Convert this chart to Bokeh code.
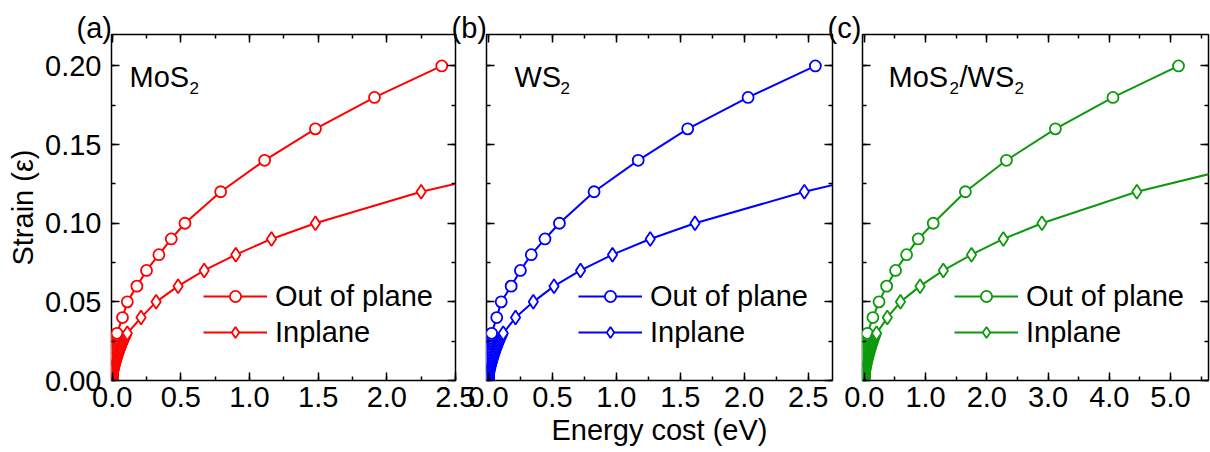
from bokeh.plotting import figure
from bokeh.layouts import row
from bokeh.models import (Label, LinearAxis, SingleIntervalTicker, NumeralTickFormatter,
                          CustomJSTickFormatter, Range1d, Legend, LegendItem, Title)
from bokeh.embed import file_html
from bokeh.resources import INLINE

FONT = "Liberation Sans"

# ---------------- data (strain vs energy cost, eV) ----------------
low_strain = [0.000, 0.001, 0.002, 0.003, 0.004, 0.005, 0.006, 0.007, 0.008, 0.009,
              0.010, 0.011, 0.012, 0.013, 0.014, 0.015, 0.016, 0.017, 0.018, 0.019,
              0.020, 0.021, 0.022, 0.023, 0.024, 0.025, 0.026, 0.027, 0.028, 0.029, 0.030]
oop_high_strain = [0.04, 0.05, 0.06, 0.07, 0.08, 0.09, 0.10, 0.12, 0.14, 0.16, 0.18, 0.20]
ip_high_strain = [0.04, 0.05, 0.06, 0.07, 0.08, 0.09, 0.10, 0.12, 0.14]

mos2_oop_low = [0, .0006, .0012, .0019, .0026, .0034, .0042, .0050, .0059, .0068, .0078,
                .0088, .0098, .0109, .0120, .0131, .0143, .0155, .0168, .0181, .0194,
                .0208, .0222, .0237, .0252, .0267, .0283, .0299, .0316, .0333, .035]
mos2_oop_high = [0.075, 0.11, 0.18, 0.25, 0.34, 0.43, 0.53, 0.79, 1.11, 1.48, 1.91, 2.40]
mos2_ip_low = [0, .0019, .0039, .0061, .0083, .0107, .0132, .0158, .0186, .0215, .0244,
               .0276, .0308, .0342, .0376, .0413, .0450, .0488, .0528, .0569, .0611,
               .0655, .0699, .0745, .0792, .0840, .0890, .0941, .0992, .1046, .11]
mos2_ip_high = [0.21, 0.32, 0.48, 0.67, 0.90, 1.16, 1.48, 2.25, 3.25]

ws2_oop_low = [0, .0004, .0009, .0014, .0019, .0024, .0030, .0036, .0042, .0049, .0056,
               .0063, .0070, .0078, .0086, .0094, .0102, .0111, .0120, .0129, .0139,
               .0149, .0159, .0169, .0180, .0191, .0202, .0214, .0226, .0238, .025]
ws2_oop_high = [0.065, 0.10, 0.178, 0.25, 0.335, 0.442, 0.555, 0.826, 1.171, 1.558, 2.03, 2.556]
ws2_ip_low = [0, .0020, .0041, .0064, .0088, .0113, .0139, .0167, .0196, .0226, .0258,
              .0291, .0325, .0360, .0397, .0435, .0474, .0515, .0557, .0600, .0645,
              .0690, .0737, .0786, .0835, .0886, .0938, .0992, .1047, .1103, .116]
ws2_ip_high = [0.212, 0.351, 0.513, 0.72, 0.97, 1.265, 1.615, 2.47, 3.52]

het_oop_low = [0, .0009, .0018, .0028, .0038, .0049, .0060, .0072, .0084, .0098, .0111,
               .0125, .0140, .0155, .0171, .0188, .0204, .0222, .0240, .0259, .0278,
               .0298, .0318, .0339, .0360, .0382, .0404, .0428, .0451, .0475, .05]
het_oop_high = [0.14, 0.24, 0.364, 0.51, 0.69, 0.88, 1.125, 1.65, 2.32, 3.12, 4.06, 5.13]
het_ip_low = [0, .0034, .0071, .0110, .0151, .0194, .0240, .0288, .0338, .0390, .0444,
              .0501, .0560, .0621, .0684, .0750, .0818, .0888, .0960, .1034, .1111,
              .1190, .1271, .1354, .1440, .1528, .1618, .1710, .1804, .1901, .20]
het_ip_high = [0.375, 0.59, 0.91, 1.29, 1.75, 2.27, 2.90, 4.45, 6.55]

series_labels = ["Out of plane", "Inplane"]


# ---------------- panels ----------------
def make_panel(tag, title_parts, color, oop_e, ip_e, xr, xint, width, bl, br, ml,
               show_y, xlabel):
    p = figure(width=width, height=452, x_range=Range1d(*xr), y_range=Range1d(0, 0.22),
               output_backend="svg", toolbar_location=None,
               min_border_left=bl, min_border_right=br, min_border_top=34,
               min_border_bottom=72, margin=(0, 0, 0, ml))
    p.title = Title(text=tag, align="left", offset=-35, standoff=-18,
                    text_font=FONT, text_font_size="29px", text_font_style="normal",
                    text_color="black")
    p.xgrid.visible = False
    p.ygrid.visible = False
    p.outline_line_color = "black"
    p.outline_line_width = 1.5
    p.background_fill_color = "white"
    p.border_fill_color = None

    xt = SingleIntervalTicker(interval=xint, num_minor_ticks=2)
    yt = SingleIntervalTicker(interval=0.05, num_minor_ticks=2)

    def style(ax):
        ax.axis_line_color = None
        ax.major_tick_in = 8
        ax.major_tick_out = 0
        ax.minor_tick_in = 4
        ax.minor_tick_out = 0
        ax.major_tick_line_color = "black"
        ax.minor_tick_line_color = "black"
        ax.major_tick_line_width = 1.5
        ax.minor_tick_line_width = 1.5
        ax.major_label_text_font = FONT
        ax.major_label_text_color = "black"
        ax.axis_label_text_font = FONT
        ax.axis_label_text_font_style = "normal"
        ax.axis_label_text_color = "black"

    xa = p.xaxis[0]
    xa.ticker = xt
    style(xa)
    xa.formatter = NumeralTickFormatter(format="0.0")
    xa.major_label_text_font_size = "29px"
    xa.major_label_standoff = 6
    if xlabel:
        xa.axis_label = xlabel
        xa.axis_label_text_font_size = "29px"
        xa.axis_label_standoff = 4

    ya = p.yaxis[0]
    ya.ticker = yt
    style(ya)
    if show_y:
        ya.formatter = NumeralTickFormatter(format="0.00")
        ya.major_label_text_font_size = "29px"
        ya.major_label_standoff = 10
        ya.axis_label = "Strain (\u03b5)"
        ya.axis_label_text_font_size = "29px"
        ya.axis_label_standoff = 3
    else:
        ya.formatter = CustomJSTickFormatter(code="return ''")
        ya.major_label_text_font_size = "1px"

    for loc, tk in (("above", xt), ("right", yt)):
        ax = LinearAxis(ticker=tk, formatter=CustomJSTickFormatter(code="return ''"))
        style(ax)
        ax.major_label_text_font_size = "1px"
        ax.major_label_standoff = 0
        p.add_layout(ax, loc)

    oop_s = low_strain + oop_high_strain
    ip_s = low_strain + ip_high_strain
    l1 = p.line(oop_e, oop_s, line_color=color, line_width=2)
    s1 = p.scatter(oop_e, oop_s, marker="circle", size=11, line_color=color,
                   line_width=1.8, fill_color="white")
    l2 = p.line(ip_e, ip_s, line_color=color, line_width=2)
    s2 = p.scatter(ip_e, ip_s, marker="diamond", size=14,
                   line_color=color, line_width=1.8, fill_color="white")

    legend = Legend(items=[LegendItem(label=series_labels[0], renderers=[l1, s1]),
                           LegendItem(label=series_labels[1], renderers=[l2, s2])],
                    location=(92, 30), glyph_width=64, glyph_height=28, label_height=36,
                    spacing=0, padding=0, margin=0, label_standoff=8,
                    label_text_font=FONT, label_text_font_size="29px",
                    label_text_color="black",
                    border_line_color=None, background_fill_alpha=0)
    p.add_layout(legend)

    for txt, x, y, fs in title_parts:
        p.add_layout(Label(x=x, y=y, x_units="screen", y_units="screen", text=txt,
                           text_font=FONT, text_font_size=fs, text_align="left",
                           text_baseline="alphabetic", text_color="black"))
    return p


pa = make_panel("(a)",
                [("MoS", 18, 304, "29px"), ("2", 78, 293, "17px")],
                "#FF0000", mos2_oop_low + mos2_oop_high, mos2_ip_low + mos2_ip_high,
                (-0.005, 2.5), 0.5, 475, 111, 20, 0, True, None)
pb = make_panel("(b)",
                [("WS", 28, 304, "29px"), ("2", 74, 293, "17px")],
                "#0000FF", ws2_oop_low + ws2_oop_high, ws2_ip_low + ws2_ip_high,
                (-0.015, 2.69), 0.5, 399, 41, 12, -30, False, "Energy cost (eV)")
pc = make_panel("(c)",
                [("MoS", 26, 304, "29px"), ("2", 87, 293, "17px"),
                 ("/WS", 97, 304, "29px"), ("2", 152, 293, "17px")],
                "#0C990C", het_oop_low + het_oop_high, het_ip_low + het_ip_high,
                (-0.03, 5.62), 1.0, 386, 38, 2, -20, False, None)

layout = row(pa, pb, pc, spacing=0)
open("out.html", "w").write(file_html(layout, INLINE))
